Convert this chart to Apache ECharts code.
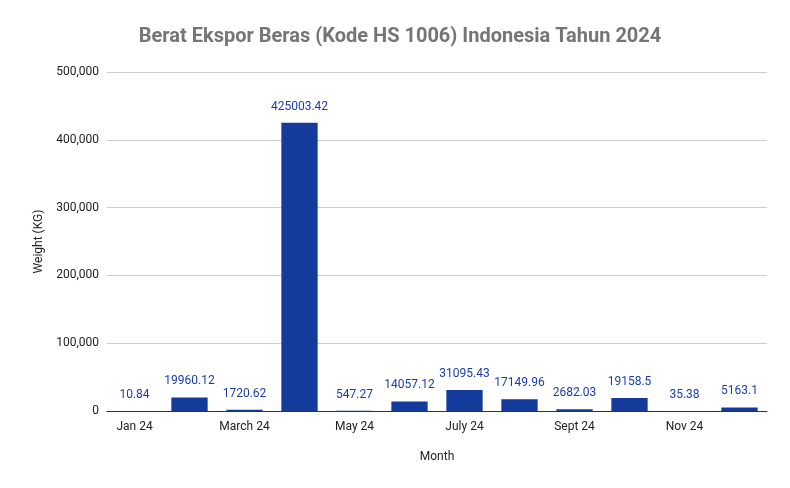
<!DOCTYPE html>
<html><head><meta charset="utf-8">
<script src="https://cdn.jsdelivr.net/npm/echarts@6/dist/echarts.min.js"></script>
<style>html,body{margin:0;padding:0;background:#fff}#c{width:790px;height:488px}</style>
</head><body><div id="c"></div>
<script>
const categories = ["Jan 24","Feb 24","March 24","April 24","May 24","June 24","July 24","Aug 24","Sept 24","Oct 24","Nov 24","Dec 24"];
const weights = [10.84,19960.12,1720.62,425003.42,547.27,14057.12,31095.43,17149.96,2682.03,19158.5,35.38,5163.1];
const chart = echarts.init(document.getElementById('c'));
chart.setOption({
  animation:false,
  title:{text:'Berat Ekspor Beras (Kode HS 1006) Indonesia Tahun 2024',left:395,top:22,textAlign:'center',
    textStyle:{fontFamily:'Roboto',fontSize:20,fontWeight:'bold',color:'#757575'}},
  grid:{left:107,right:23,top:72,bottom:77},
  xAxis:{type:'category',data:categories,name:'Month',nameLocation:'middle',nameGap:40,
    nameTextStyle:{fontFamily:'Roboto',fontSize:12,color:'#222'},
    axisTick:{show:false},axisLine:{lineStyle:{color:'#333'}},
    axisLabel:{fontFamily:'Roboto',fontSize:12,color:'#222',margin:10}},
  yAxis:{type:'value',min:0,max:500000,interval:100000,name:'Weight (KG)',nameLocation:'middle',nameGap:62,
    nameTextStyle:{fontFamily:'Roboto',fontSize:12,color:'#222'},
    axisLabel:{fontFamily:'Roboto',fontSize:12,color:'#222'},
    splitLine:{lineStyle:{color:'#ccc'}}},
  series:[{type:'bar',data:weights,barWidth:'66%',itemStyle:{color:'#143a9b'},
    label:{show:true,position:'top',distance:10,fontFamily:'Roboto',fontSize:12,color:'#1a3ea8',
      formatter:p=>String(p.value)},
    labelLayout:p=>null}]
});
</script></body></html>
